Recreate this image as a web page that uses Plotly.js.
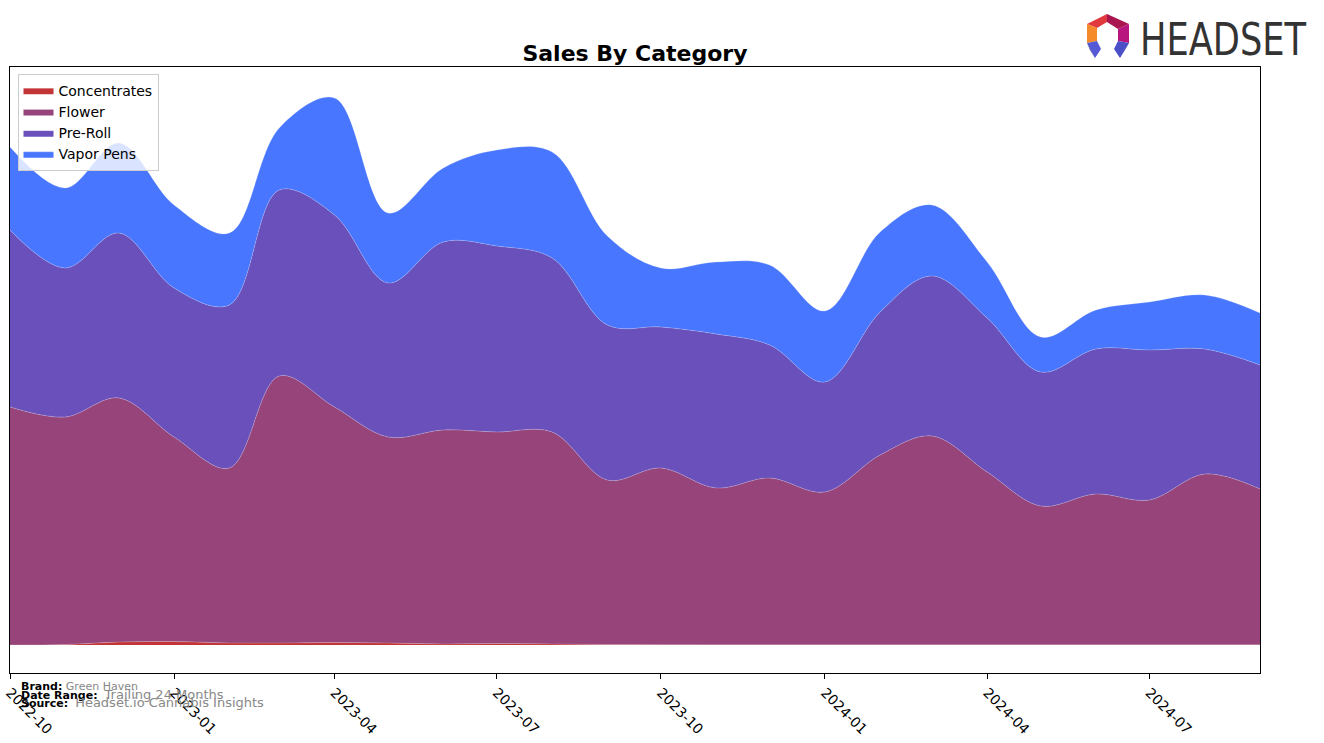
<!DOCTYPE html>
<html>
<head>
<meta charset="utf-8">
<script src="https://cdn.plot.ly/plotly-3.0.1.min.js"></script>
<style>
html,body{margin:0;padding:0;background:#fff;}
#chart{width:1324px;height:743px;position:relative;}
#logo{position:absolute;left:1084px;top:12px;width:236px;height:50px;pointer-events:none;overflow:visible;}
</style>
</head>
<body>
<div id="chart"></div>
<svg id="logo" viewBox="0 0 236 50" xmlns="http://www.w3.org/2000/svg">
  <polygon points="3,12 23,2 23,10 13,16" fill="#E03A3E"/>
  <polygon points="23,2 45,12 34,17 23,10" fill="#A8154F"/>
  <polygon points="3,12 13,16 13,29 3,31" fill="#F58A2A"/>
  <polygon points="45,12 34,17 34,29 45,31" fill="#B8157E"/>
  <polygon points="3,31 13,29 17,37 11,46" fill="#5559D6"/>
  <polygon points="3,31 11,46 6,38" fill="#2E2E8C"/>
  <polygon points="45,31 34,29 30,37 36,46" fill="#4A4FC8"/>
  <polygon points="45,31 36,46 41,38" fill="#2A2A80"/>
  <text x="56" y="43" font-family="'Liberation Sans Narrow','DejaVu Sans Condensed','Liberation Sans',sans-serif" font-size="44" fill="#333333" textLength="166" lengthAdjust="spacingAndGlyphs">HEADSET</text>
</svg>
<script>
// Monthly data (arbitrary sales units)
const months = ["2022-10-01","2022-11-01","2022-12-01","2023-01-01","2023-02-01","2023-03-01",
  "2023-04-01","2023-05-01","2023-06-01","2023-07-01","2023-08-01","2023-09-01",
  "2023-10-01","2023-11-01","2023-12-01","2024-01-01","2024-02-01","2024-03-01",
  "2024-04-01","2024-05-01","2024-06-01","2024-07-01","2024-08-01","2024-09-01"];
const concentrates = [0,0.5,3,3.5,2,2,2.5,2,1,1.5,1,0.5,0.3,0.2,0.2,0.2,0.2,0.2,0.2,0.2,0.2,0.2,0.2,0.2];
const flower = [238,227.5,244,204.5,175,267,235.5,206,214,211.5,212,164.5,176.7,156.8,166.8,152.8,189.8,208.8,172.8,138.8,150.8,144.8,170.8,155.8];
const preRoll = [177,149,165,149,163,186,192,154,188,186,174,155,141,154,133,110,143,160,154,134,145,150,125,124];
const vaporPens = [83,80,90,83,72,62,117,70,74,96,106,89,59,72,80,71,80,71,56,35,39,48,54,52];

const names = ["Concentrates","Flower","Pre-Roll","Vapor Pens"];
const colors = ["#C23436","#964479","#6A50BA","#4876FE"];
const series = [concentrates, flower, preRoll, vaporPens];

const traces = series.map((vals, i) => ({
  type: "scatter",
  mode: "lines",
  x: months,
  y: vals,
  name: names[i],
  stackgroup: "one",
  line: {shape: "spline", smoothing: 1, width: 0.6, color: "rgba(255,255,255,0.35)"},
  fillcolor: colors[i]
}));

const FONT = "DejaVu Sans, sans-serif";
const px2x = p => (p - 10) / 1250;
const py2y = p => (673 - p) / 606;

const layout = {
  width: 1324, height: 743,
  margin: {l: 10, r: 64, t: 67, b: 70},
  paper_bgcolor: "#fff", plot_bgcolor: "#fff",
  font: {family: FONT, color: "#000"},
  title: {text: "<b>Sales By Category</b>", font: {family: FONT, size: 22, color: "#000"},
          x: 0.4796, xanchor: "center", y: 1 - 53/743, yanchor: "middle"},
  showlegend: true,
  legend: {x: 0.006, y: 0.989, xanchor: "left", yanchor: "top", traceorder: "normal",
           bgcolor: "rgba(255,255,255,0.8)", bordercolor: "#cccccc", borderwidth: 1,
           font: {family: FONT, size: 14, color: "#000"}, itemwidth: 30, tracegroupgap: 0},
  xaxis: {type: "date", range: ["2022-10-01","2024-09-01"], tick0: "2022-10-01", dtick: "M3",
          tickformat: "%Y-%m", tickangle: 45, ticks: "outside", ticklen: 5, tickcolor: "#000",
          showline: true, mirror: true, linecolor: "#000", linewidth: 1, showgrid: false, zeroline: false,
          tickfont: {family: FONT, size: 14, color: "#000"}},
  yaxis: {range: [-28, 578], showticklabels: false, ticks: "", showgrid: false, zeroline: false,
          showline: true, mirror: true, linecolor: "#000", linewidth: 1},
  annotations: [
    {xref: "paper", yref: "paper", x: px2x(19), y: py2y(686), xanchor: "left", yanchor: "middle", showarrow: false,
     text: "<b>Brand:</b> <span style='color:#888'>Green Haven</span>", font: {family: FONT, size: 11, color: "#000"}},
    {xref: "paper", yref: "paper", x: px2x(19), y: py2y(694), xanchor: "left", yanchor: "middle", showarrow: false,
     text: "<b>Date Range:</b>  <span style='color:#888;font-size:13px'>Trailing 24 Months</span>", font: {family: FONT, size: 11, color: "#000"}},
    {xref: "paper", yref: "paper", x: px2x(19), y: py2y(702), xanchor: "left", yanchor: "middle", showarrow: false,
     text: "<b>Source:</b>  <span style='color:#888;font-size:13px'>Headset.io Cannabis Insights</span>", font: {family: FONT, size: 11, color: "#000"}}
  ]
};

Plotly.newPlot("chart", traces, layout, {displayModeBar: false, staticPlot: true});
</script>
</body>
</html>
